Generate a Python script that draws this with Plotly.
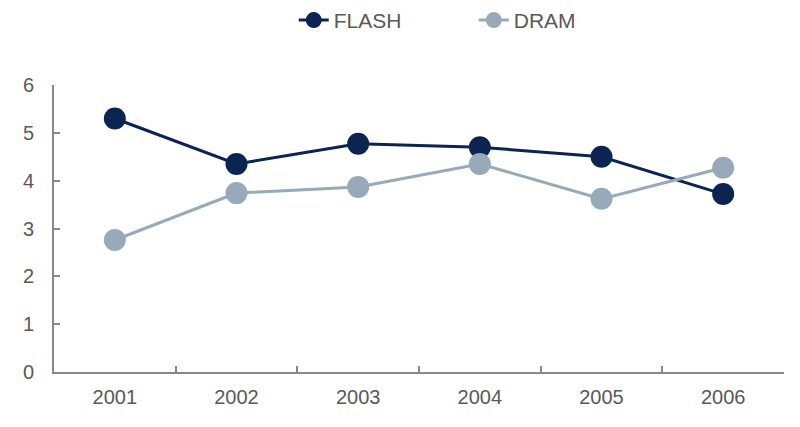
import plotly.graph_objects as go

years = ["2001", "2002", "2003", "2004", "2005", "2006"]
flash = [5.30, 4.35, 4.77, 4.70, 4.50, 3.72]
dram = [2.76, 3.74, 3.87, 4.35, 3.62, 4.27]

fig = go.Figure()
fig.add_trace(go.Scatter(x=years, y=flash, name="FLASH", mode="lines+markers",
                         line=dict(color="#0B2452", width=3),
                         marker=dict(size=22, color="#0B2452")))
fig.add_trace(go.Scatter(x=years, y=dram, name="DRAM", mode="lines+markers",
                         line=dict(color="#98AAB9", width=3),
                         marker=dict(size=22, color="#98AAB9")))

fig.update_layout(
    width=784, height=411,
    margin=dict(l=46, r=8, t=77, b=47, autoexpand=False),
    plot_bgcolor="white", paper_bgcolor="white",
    font=dict(family="Liberation Sans, Arial, sans-serif", size=20, color="#595959"),
    legend=dict(orientation="h", x=0.575, xanchor="center", y=1.225, yanchor="middle",
                font=dict(size=21, color="#595959"), entrywidth=135,
                traceorder="normal"),
    showlegend=True,
)
fig.update_xaxes(type="category", range=[-0.5, 5.5], tickson="boundaries",
                 ticks="inside", ticklen=6, tickcolor="#888888", tickwidth=1.5,
                 showline=True, linecolor="#888888", linewidth=2,
                 showgrid=False, zeroline=False, ticklabelstandoff=6,
                 tickfont=dict(size=20, color="#595959"))
fig.update_yaxes(range=[0, 6], dtick=1, ticks="inside", ticklen=6,
                 tickcolor="#888888", tickwidth=1.5,
                 showline=True, linecolor="#888888", linewidth=2,
                 showgrid=False, zeroline=False, ticklabelstandoff=14,
                 tickfont=dict(size=20, color="#595959"))

fig.write_html("out.html")
